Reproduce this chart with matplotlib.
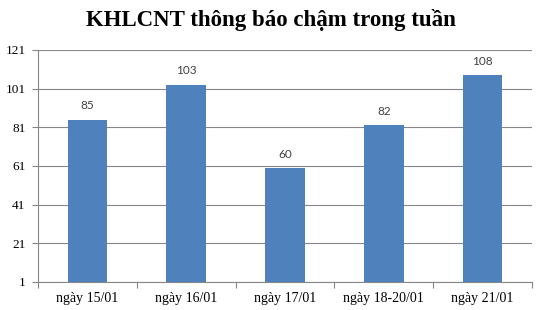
import matplotlib
matplotlib.use('Agg')
import matplotlib.pyplot as plt

categories = ['ngày 15/01', 'ngày 16/01', 'ngày 17/01', 'ngày 18-20/01', 'ngày 21/01']
values = [85, 103, 60, 82, 108]
y_ticks = [1, 21, 41, 61, 81, 101, 121]

bar_color = '#4F81BD'
grid_color = '#868686'

fig = plt.figure(figsize=(5.41, 3.10), dpi=100)
ax = fig.add_axes([38 / 541, 1 - 282 / 310, (532 - 38) / 541, (282 - 50) / 310])

positions = list(range(len(categories)))
bars = ax.bar(positions, values, width=0.4, color=bar_color, zorder=3)

ax.set_xlim(-0.5, len(categories) - 0.5)
ax.set_ylim(y_ticks[0], y_ticks[-1])
ax.set_yticks(y_ticks)
ax.set_yticklabels([str(t) for t in y_ticks], fontfamily='Liberation Serif', fontsize=9.5)

# category ticks sit between the bars, labels under the bar centres
ax.set_xticks([p - 0.5 for p in positions] + [len(categories) - 0.5])
ax.set_xticklabels([])
ax.set_xticks(positions, minor=True)
ax.set_xticklabels(categories, minor=True, fontfamily='Liberation Serif', fontsize=10)
ax.tick_params(axis='x', which='minor', length=0, pad=7.5)
ax.tick_params(axis='x', which='major', length=4, color=grid_color)
ax.tick_params(axis='y', length=4, color=grid_color, pad=5)

ax.grid(axis='y', color=grid_color, linewidth=0.8, zorder=0)
for side in ['top', 'right']:
    ax.spines[side].set_visible(False)
for side in ['left', 'bottom']:
    ax.spines[side].set_color(grid_color)
    ax.spines[side].set_linewidth(0.8)

for bar, v in zip(bars, values):
    ax.annotate(str(v), (bar.get_x() + bar.get_width() / 2, v),
                xytext=(0, 6), textcoords='offset points', ha='center', va='bottom',
                fontsize=8.5, fontfamily='Lato', color='#404040')

fig.text(0.5, 1 - 20 / 310, 'KHLCNT thông báo chậm trong tuần', ha='center', va='center',
         fontsize=16.5, fontweight='bold', fontfamily='Liberation Serif')

fig.savefig('out.png', dpi=100)
